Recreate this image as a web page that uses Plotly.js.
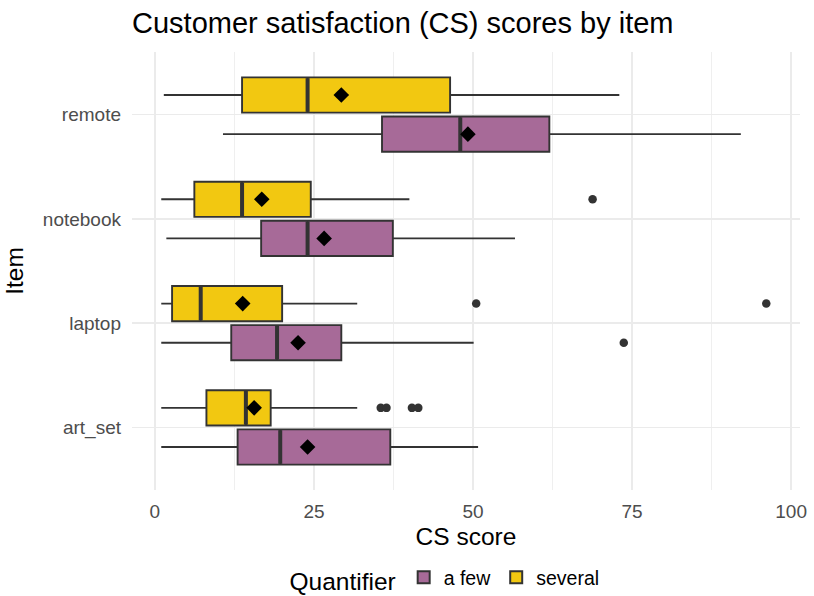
<!DOCTYPE html>
<html>
<head>
<meta charset="utf-8">
<script src="https://cdn.plot.ly/plotly-3.0.1.min.js"></script>
<style>html,body{margin:0;padding:0;background:#fff;}#chart{width:814px;height:596px;}</style>
</head>
<body>
<div id="chart"></div>
<script>
// ---- data ----
const items = ['art_set', 'laptop', 'notebook', 'remote'];

const aFewLower  = [1.0, 1.0, 1.8, 10.7];
const aFewQ1     = [13.0, 12.0, 16.7, 35.7];
const aFewMedian = [19.7, 19.2, 24.0, 48.0];
const aFewQ3     = [37.0, 29.3, 37.4, 62.0];
const aFewUpper  = [50.8, 50.1, 56.6, 92.1];
const aFewMean   = [24.0, 22.5, 26.6, 49.2];
const aFewOutlierItems  = ['laptop'];
const aFewOutlierValues = [73.7];

const severalLower  = [1.0, 1.0, 1.0, 1.4];
const severalQ1     = [8.1, 2.7, 6.2, 13.7];
const severalMedian = [14.3, 7.2, 13.7, 24.0];
const severalQ3     = [18.2, 20.0, 24.5, 46.4];
const severalUpper  = [31.8, 31.8, 40.0, 73.0];
const severalMean   = [15.6, 13.8, 16.8, 29.3];
const severalOutlierItems  = ['art_set', 'art_set', 'art_set', 'art_set', 'laptop', 'laptop', 'notebook'];
const severalOutlierValues = [35.5, 36.4, 40.4, 41.4, 50.5, 96.1, 68.8];

const xTicks = [0, 25, 50, 75, 100];

// ---- styling / layout ----
const FONT = 'Liberation Sans, Arial, Helvetica, sans-serif';
const colAFew = '#A76A98';
const colSeveral = '#F2C811';
const edge = '#333333';
const boxWidth = 0.3375;   // dodged box width in category units
const dodge = 0.1875;      // half distance between dodged box centres
const plotH = 596 - 52 - 106;
const yRange = [-0.6, items.length - 0.4];
const pxPerUnit = plotH / (yRange[1] - yRange[0]);

function pos(list, off) { return list.map(it => items.indexOf(it) + off); }

function groupTraces(name, color, off, lower, q1, med, q3, upper, mean, oItems, oVals) {
  const yPos = pos(items, off);
  return [
    {
      type: 'box', orientation: 'h', name: name, legendgroup: name,
      y: yPos, q1: q1, median: med, q3: q3, lowerfence: lower, upperfence: upper,
      width: boxWidth, whiskerwidth: 0, boxpoints: false,
      fillcolor: color, line: {color: edge, width: 1.9},
      hoverinfo: 'skip'
    },
    { // thicker median bar (line-ns symbol length = 1.4 * size)
      type: 'scatter', mode: 'markers', showlegend: false, legendgroup: name,
      x: med, y: yPos,
      marker: {symbol: 'line-ns', size: (boxWidth * pxPerUnit - 1.5) / 1.4, line: {color: edge, width: 4}},
      hoverinfo: 'skip'
    },
    { // outliers
      type: 'scatter', mode: 'markers', showlegend: false, legendgroup: name,
      x: oVals, y: pos(oItems, off),
      marker: {symbol: 'circle', size: 8.5, color: edge},
      hoverinfo: 'skip'
    },
    { // means
      type: 'scatter', mode: 'markers', showlegend: false, legendgroup: name,
      x: mean, y: yPos,
      marker: {symbol: 'diamond', size: 12, color: '#000000'},
      hoverinfo: 'skip'
    }
  ];
}

const data = [].concat(
  groupTraces('a few', colAFew, -dodge, aFewLower, aFewQ1, aFewMedian, aFewQ3, aFewUpper, aFewMean, aFewOutlierItems, aFewOutlierValues),
  groupTraces('several', colSeveral, dodge, severalLower, severalQ1, severalMedian, severalQ3, severalUpper, severalMean, severalOutlierItems, severalOutlierValues)
);

const layout = {
  width: 814, height: 596,
  margin: {l: 132, r: 14, t: 52, b: 106, pad: 0, autoexpand: false},
  paper_bgcolor: '#ffffff', plot_bgcolor: '#ffffff',
  font: {family: FONT, color: '#000000'},
  title: {
    text: 'Customer satisfaction (CS) scores by item',
    font: {family: FONT, size: 29, color: '#000000'},
    x: 0, xref: 'paper', xanchor: 'left',
    y: 1 - 23 / 596, yref: 'container', yanchor: 'middle'
  },
  showlegend: true,
  legend: {
    orientation: 'h', x: 0.47, xanchor: 'center', xref: 'paper',
    y: 1 - 579 / 596, yanchor: 'middle', yref: 'container',
    title: {text: 'Quantifier', side: 'left', font: {family: FONT, size: 24.5, color: '#000000'}},
    font: {family: FONT, size: 19.5, color: '#000000'},
    itemsizing: 'constant', traceorder: 'normal'
  },
  xaxis: {
    range: [-3.6, 101.4], tickvals: xTicks, ticktext: xTicks.map(String),
    showgrid: true, gridcolor: '#EBEBEB', gridwidth: 1.5,
    minor: {dtick: 12.5, tick0: 0, showgrid: true, gridcolor: '#EBEBEB', gridwidth: 0.8},
    zeroline: false, showline: false, ticks: '',
    ticklabelstandoff: 8, automargin: false,
    tickfont: {family: FONT, size: 19, color: '#4D4D4D'},
    title: {text: 'CS score', font: {family: FONT, size: 24.5, color: '#000000'}, standoff: 6},
    fixedrange: true
  },
  yaxis: {
    range: yRange, tickvals: items.map((_, i) => i), ticktext: items,
    showgrid: true, gridcolor: '#EBEBEB', gridwidth: 1.5,
    zeroline: false, showline: false, ticks: '',
    ticklabelstandoff: 10, automargin: false,
    tickfont: {family: FONT, size: 19, color: '#4D4D4D'},
    title: {text: 'Item', font: {family: FONT, size: 24.5, color: '#000000'}, standoff: 12},
    fixedrange: true
  }
};

Plotly.newPlot('chart', data, layout, {displayModeBar: false, staticPlot: true});
</script>
</body>
</html>
